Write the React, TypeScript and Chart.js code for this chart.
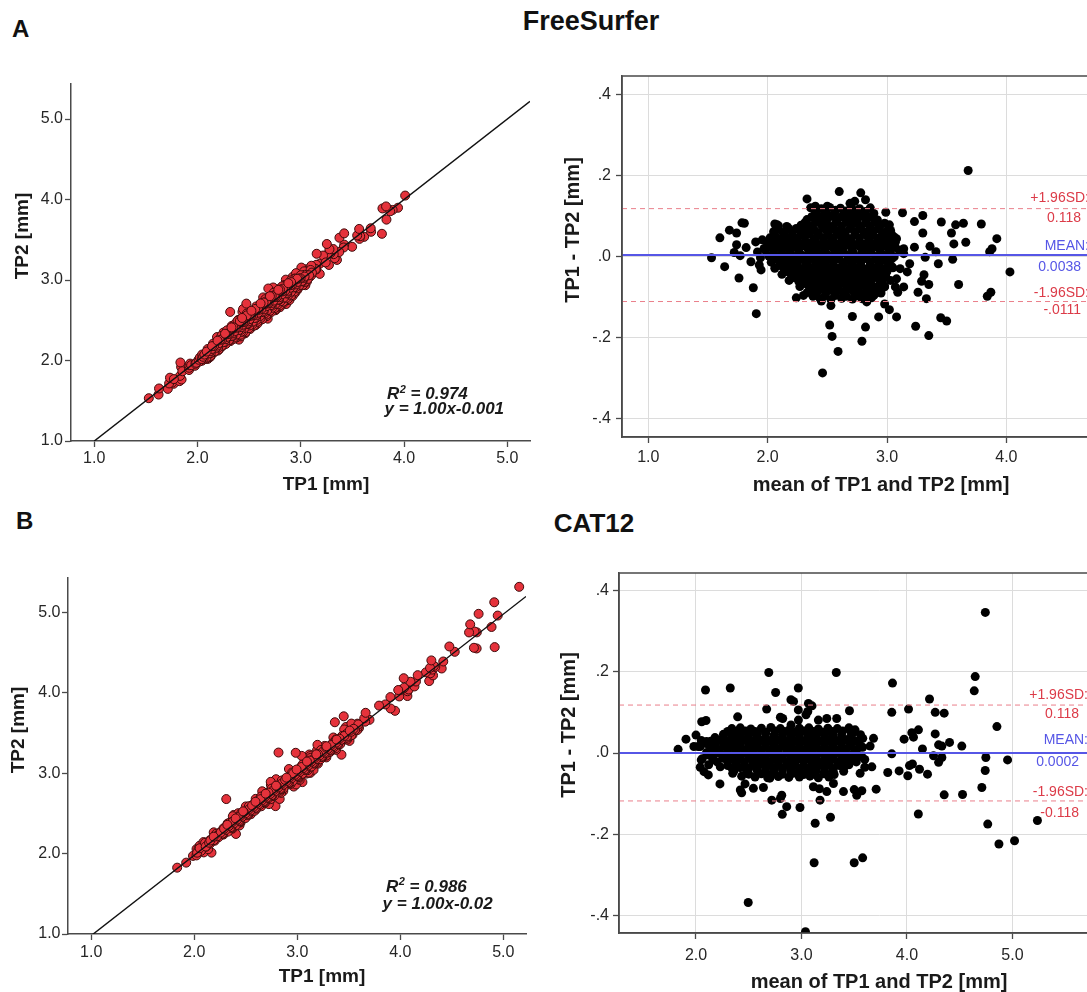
import React, { useEffect, useRef } from "react";
import { Chart, registerables } from "chart.js";

Chart.register(...registerables);

const FONT = "'Liberation Sans', Arial, Helvetica, sans-serif";
Chart.defaults.font.family = FONT;

// ---------------- DATA ----------------
// Bland-Altman points [mean of TP1 and TP2, TP1 - TP2], FreeSurfer
const fsPoints: [number, number][] = [
  [1.53, -0.003], [1.6, 0.046], [1.64, -0.025], [1.68, 0.065], [1.74, 0.058], [1.74, 0.029], [1.72, 0.01],
  [1.76, -0.053], [1.785, 0.083], [1.805, 0.082], [1.82, 0.022], [1.77, 0.002], [1.88, -0.077], [1.905, -0.141],
  [1.86, -0.013], [1.9, 0.036], [1.915, 0.011], [1.93, -0.021], [1.945, -0.033], [1.955, 0.041], [1.94, -0.003],
  [1.97, 0.02], [2.06, 0.08], [2.08, 0.078], [2.175, 0.07], [2.33, 0.142], [2.4, 0.124], [2.5, 0.124], [2.6, 0.16],
  [2.69, 0.131], [2.78, 0.157], [2.82, 0.14], [2.73, 0.136],
  [2.99, 0.109], [3.13, 0.108], [3.23, 0.086], [3.3, 0.101], [3.455, 0.085], [3.575, 0.078], [3.64, 0.082],
  [3.79, 0.08], [3.54, 0.058], [3.3, 0.058], [3.56, 0.031], [3.66, 0.035], [3.92, 0.044], [3.88, 0.019],
  [3.86, 0.012], [4.03, -0.038], [3.55, -0.007], [3.6, -0.069], [3.84, -0.098], [3.87, -0.088], [3.43, -0.018],
  [3.41, 0.012], [3.36, 0.025], [3.32, -0.002], [3.31, -0.045], [3.29, -0.061], [3.35, -0.069], [3.33, -0.104],
  [3.26, -0.088], [3.24, -0.172], [3.45, -0.151], [3.5, -0.159], [3.19, -0.018], [3.17, -0.038], [3.14, 0.019],
  [3.23, 0.023], [3.09, -0.088], [3.08, -0.149], [2.93, -0.149], [2.89, -0.096], [2.83, -0.112], [2.98, -0.117],
  [3.02, -0.131], [2.82, -0.174], [3.07, 0.035], [3.06, 0.048], [3.03, 0.064], [3.14, 0.007], [3.04, -0.025],
  [3.08, -0.055], [3.14, -0.075], [3.07, -0.075], [2.97, -0.055], [2.98, -0.075], [3.025, 0.031], [3.11, -0.03],
  [3.68, 0.212], [3.35, -0.195], [2.79, -0.209],
  [2.24, -0.102], [2.3, -0.096], [2.38, -0.098], [2.45, -0.11], [2.53, -0.121], [2.52, -0.169], [2.54, -0.197],
  [2.59, -0.234], [2.46, -0.287], [2.71, -0.148],
  // dense core
  [2.36, 0.12], [2.45, 0.118], [2.52, 0.121], [2.61, 0.119], [2.7, 0.122], [2.77, 0.118], [2.86, 0.12],
  [2.4, 0.106], [2.48, 0.104], [2.56, 0.107], [2.64, 0.105], [2.72, 0.106], [2.81, 0.103], [2.89, 0.106],
  [2.33, 0.091], [2.42, 0.089], [2.5, 0.092], [2.58, 0.09], [2.66, 0.093], [2.75, 0.089], [2.83, 0.091], [2.92, 0.09],
  [2.09, 0.076], [2.16, 0.074], [2.28, 0.077], [2.36, 0.075], [2.45, 0.078], [2.53, 0.074], [2.62, 0.076],
  [2.7, 0.077], [2.78, 0.074], [2.86, 0.076], [2.94, 0.075], [3.02, 0.078],
  [2.05, 0.061], [2.13, 0.059], [2.21, 0.062], [2.28, 0.06], [2.35, 0.063], [2.42, 0.059], [2.5, 0.061],
  [2.58, 0.062], [2.65, 0.058], [2.73, 0.061], [2.81, 0.06], [2.89, 0.063], [2.97, 0.059],
  [2.02, 0.046], [2.1, 0.044], [2.17, 0.047], [2.24, 0.045], [2.31, 0.048], [2.39, 0.044], [2.47, 0.046],
  [2.54, 0.045], [2.62, 0.047], [2.69, 0.044], [2.77, 0.046], [2.84, 0.048], [2.92, 0.045], [3.0, 0.046], [3.08, 0.044],
  [2.0, 0.031], [2.07, 0.029], [2.14, 0.032], [2.21, 0.03], [2.29, 0.031], [2.36, 0.033], [2.43, 0.029],
  [2.51, 0.031], [2.58, 0.03], [2.66, 0.032], [2.74, 0.029], [2.81, 0.031], [2.89, 0.03], [2.96, 0.032], [3.04, 0.029],
  [1.98, 0.016], [2.05, 0.014], [2.12, 0.017], [2.19, 0.015], [2.26, 0.016], [2.34, 0.018], [2.41, 0.014],
  [2.48, 0.016], [2.56, 0.015], [2.63, 0.017], [2.71, 0.014], [2.79, 0.016], [2.86, 0.015], [2.94, 0.017],
  [3.02, 0.014], [3.1, 0.016],
  [2.01, 0.001], [2.09, -0.001], [2.16, 0.002], [2.23, 0.0], [2.3, 0.001], [2.38, 0.003], [2.45, -0.001],
  [2.53, 0.001], [2.6, 0.0], [2.68, 0.002], [2.76, -0.001], [2.83, 0.001], [2.91, 0.0], [2.99, 0.002], [3.06, -0.001],
  [2.03, -0.014], [2.11, -0.016], [2.18, -0.013], [2.25, -0.015], [2.33, -0.014], [2.4, -0.012], [2.48, -0.016],
  [2.55, -0.014], [2.63, -0.015], [2.71, -0.013], [2.78, -0.016], [2.86, -0.014], [2.94, -0.015], [3.01, -0.013],
  [2.06, -0.029], [2.14, -0.031], [2.21, -0.028], [2.29, -0.03], [2.36, -0.029], [2.44, -0.027], [2.51, -0.031],
  [2.59, -0.029], [2.67, -0.03], [2.74, -0.028], [2.82, -0.031], [2.9, -0.029], [2.97, -0.03], [3.05, -0.028],
  [2.12, -0.044], [2.2, -0.046], [2.27, -0.043], [2.35, -0.045], [2.42, -0.044], [2.5, -0.042], [2.57, -0.046],
  [2.65, -0.044], [2.73, -0.045], [2.8, -0.043], [2.88, -0.046], [2.96, -0.044],
  [2.18, -0.059], [2.26, -0.061], [2.33, -0.058], [2.41, -0.06], [2.49, -0.059], [2.56, -0.057], [2.64, -0.061],
  [2.72, -0.059], [2.79, -0.06], [2.87, -0.058], [2.95, -0.061], [3.03, -0.059],
  [2.27, -0.074], [2.35, -0.076], [2.43, -0.073], [2.51, -0.075], [2.58, -0.074], [2.66, -0.072], [2.74, -0.076],
  [2.82, -0.074], [2.9, -0.075], [2.98, -0.073],
  [2.33, -0.089], [2.41, -0.091], [2.49, -0.088], [2.56, -0.09], [2.64, -0.089], [2.72, -0.087], [2.8, -0.091],
  [2.88, -0.089], [2.95, -0.09],
  [2.44, -0.104], [2.53, -0.106], [2.62, -0.103], [2.71, -0.105], [2.79, -0.104], [2.87, -0.102],
];

// more of the dense FreeSurfer core (between the rows above)
const fsCoreFill: [number, number][] = [
  [2.41, 0.113], [2.49, 0.112], [2.57, 0.114], [2.66, 0.112], [2.74, 0.113], [2.82, 0.111],
  [2.37, 0.098], [2.45, 0.097], [2.53, 0.099], [2.62, 0.098], [2.7, 0.096], [2.78, 0.099], [2.86, 0.098],
  [2.31, 0.083], [2.4, 0.084], [2.49, 0.082], [2.57, 0.083], [2.66, 0.085], [2.74, 0.082], [2.82, 0.083],
  [2.9, 0.084], [2.98, 0.082],
  [2.09, 0.068], [2.17, 0.067], [2.24, 0.069], [2.32, 0.068], [2.39, 0.066], [2.47, 0.069], [2.54, 0.068],
  [2.62, 0.067], [2.69, 0.069], [2.77, 0.068], [2.85, 0.066], [2.93, 0.068], [3.01, 0.067],
  [2.06, 0.053], [2.14, 0.054], [2.21, 0.052], [2.28, 0.053], [2.35, 0.055], [2.43, 0.052], [2.51, 0.053],
  [2.58, 0.054], [2.65, 0.052], [2.73, 0.053], [2.81, 0.055], [2.88, 0.052], [2.96, 0.053], [3.04, 0.054],
  [2.04, 0.038], [2.11, 0.037], [2.18, 0.039], [2.25, 0.038], [2.32, 0.036], [2.4, 0.039], [2.47, 0.038],
  [2.55, 0.037], [2.62, 0.039], [2.7, 0.038], [2.77, 0.036], [2.85, 0.038], [2.93, 0.039], [3.0, 0.037],
  [2.03, 0.023], [2.1, 0.024], [2.17, 0.022], [2.24, 0.023], [2.32, 0.025], [2.39, 0.022], [2.47, 0.023],
  [2.54, 0.024], [2.62, 0.022], [2.7, 0.023], [2.77, 0.025], [2.85, 0.022], [2.92, 0.023], [3.0, 0.024], [3.07, 0.022],
  [2.05, 0.008], [2.12, 0.007], [2.19, 0.009], [2.27, 0.008], [2.34, 0.006], [2.42, 0.009], [2.49, 0.008],
  [2.57, 0.007], [2.64, 0.009], [2.72, 0.008], [2.79, 0.006], [2.87, 0.008], [2.95, 0.009], [3.03, 0.007],
  [2.07, -0.007], [2.14, -0.006], [2.21, -0.008], [2.29, -0.007], [2.36, -0.005], [2.44, -0.008], [2.51, -0.007],
  [2.59, -0.006], [2.67, -0.008], [2.74, -0.007], [2.82, -0.005], [2.9, -0.007], [2.97, -0.008], [3.04, -0.006],
  [2.1, -0.022], [2.17, -0.021], [2.25, -0.023], [2.32, -0.022], [2.4, -0.02], [2.47, -0.023], [2.55, -0.022],
  [2.63, -0.021], [2.7, -0.023], [2.78, -0.022], [2.86, -0.02], [2.93, -0.022], [3.01, -0.023],
  [2.16, -0.037], [2.24, -0.036], [2.31, -0.038], [2.39, -0.037], [2.46, -0.035], [2.54, -0.038], [2.61, -0.037],
  [2.69, -0.036], [2.77, -0.038], [2.84, -0.037], [2.92, -0.035], [3.0, -0.037],
  [2.22, -0.052], [2.3, -0.051], [2.37, -0.053], [2.45, -0.052], [2.53, -0.05], [2.6, -0.053], [2.68, -0.052],
  [2.76, -0.051], [2.83, -0.053], [2.91, -0.052], [2.99, -0.05],
  [2.3, -0.067], [2.38, -0.066], [2.46, -0.068], [2.54, -0.067], [2.62, -0.065], [2.7, -0.068], [2.78, -0.067],
  [2.86, -0.066], [2.94, -0.068],
  [2.37, -0.082], [2.45, -0.081], [2.52, -0.083], [2.6, -0.082], [2.68, -0.08], [2.76, -0.083], [2.84, -0.082],
  [2.92, -0.081],
  [2.48, -0.097], [2.57, -0.096], [2.66, -0.098], [2.75, -0.097], [2.83, -0.095],
];

// Bland-Altman points [mean of TP1 and TP2, TP1 - TP2], CAT12
const c12Points: [number, number][] = [
  [1.83, 0.009], [1.905, 0.034], [2.09, 0.155], [2.325, 0.16], [2.69, 0.198], [3.33, 0.198], [2.97, 0.16],
  [2.755, 0.149], [2.9, 0.131], [2.925, 0.127], [3.066, 0.122], [3.1, 0.116], [2.97, 0.106], [2.67, 0.108],
  [3.455, 0.104], [2.395, 0.089], [2.054, 0.077], [2.095, 0.08], [1.98, 0.016], [2.0, 0.044], [2.176, 0.006],
  [2.04, -0.035], [2.076, -0.046], [2.117, -0.054], [2.227, -0.076], [2.348, -0.05], [2.433, -0.057],
  [2.433, -0.098], [2.544, -0.087], [2.465, -0.076], [2.639, -0.085], [2.7, -0.062], [2.813, -0.104],
  [2.8, -0.112], [2.86, -0.132], [2.986, -0.134], [2.718, -0.116], [3.176, -0.116], [3.113, -0.083],
  [3.17, -0.088], [3.24, -0.095], [3.303, -0.075], [3.398, -0.095], [3.524, -0.104], [3.5, -0.09],
  [3.556, -0.05], [3.6, -0.035], [3.572, -0.009], [3.581, 0.036], [3.508, 0.057], [3.46, 0.056], [3.334, 0.085],
  [3.24, 0.085], [3.16, 0.081], [2.822, 0.085], [2.8, 0.088], [2.901, 0.069], [2.971, 0.081], [3.043, 0.094],
  [3.06, 0.102],
  [2.818, -0.151], [3.13, -0.173], [3.275, -0.158], [3.12, -0.27], [3.5, -0.27], [3.58, -0.258], [2.495, -0.368],
  [3.038, -0.44], [2.42, -0.091],
  [3.863, 0.172], [4.647, 0.188], [4.638, 0.153], [3.856, 0.1], [4.015, 0.108], [4.214, 0.133], [4.268, 0.1],
  [4.353, 0.098], [4.853, 0.065], [3.683, 0.036], [3.651, 0.017], [3.973, 0.034], [4.046, 0.05], [4.062, 0.039],
  [4.109, 0.057], [4.147, 0.01], [4.268, 0.047], [4.3, 0.02], [4.331, 0.017], [4.404, 0.026], [4.52, 0.017],
  [3.856, -0.002], [4.252, -0.007], [4.331, -0.011], [4.748, -0.011], [4.954, -0.017], [4.742, -0.043],
  [4.3, -0.023], [4.024, -0.031], [4.052, -0.027], [4.119, -0.04], [4.195, -0.052], [4.008, -0.056],
  [3.926, -0.044], [3.818, -0.048], [3.667, -0.034], [3.708, -0.089], [3.572, -0.093], [4.353, -0.103],
  [4.527, -0.102], [4.71, -0.085],
  [4.743, 0.346], [4.108, -0.15], [4.766, -0.175], [4.872, -0.224], [5.02, -0.216], [5.237, -0.166],
  [2.1, 0.028], [2.15, 0.016], [2.04, 0.016], [2.26, -0.009], [2.12, -0.005], [2.05, -0.017], [2.23, -0.034],
  // dense core
  [2.34, 0.06], [2.42, 0.062], [2.52, 0.059], [2.62, 0.061], [2.71, 0.063], [2.8, 0.06], [2.89, 0.058],
  [2.98, 0.061], [3.07, 0.062], [3.16, 0.059], [3.25, 0.061], [3.34, 0.06], [3.45, 0.062],
  [2.26, 0.046], [2.34, 0.044], [2.42, 0.047], [2.5, 0.045], [2.58, 0.046], [2.66, 0.048], [2.74, 0.044],
  [2.82, 0.046], [2.9, 0.045], [2.98, 0.047], [3.06, 0.044], [3.14, 0.046], [3.22, 0.045], [3.3, 0.047],
  [3.38, 0.044], [3.48, 0.046], [3.56, 0.045],
  [2.05, 0.031], [2.14, 0.029], [2.22, 0.032], [2.3, 0.03], [2.38, 0.031], [2.46, 0.033], [2.54, 0.029],
  [2.62, 0.031], [2.7, 0.03], [2.78, 0.032], [2.86, 0.029], [2.94, 0.031], [3.02, 0.03], [3.1, 0.032],
  [3.18, 0.029], [3.26, 0.031], [3.34, 0.03], [3.42, 0.032], [3.52, 0.029],
  [2.02, 0.016], [2.18, 0.014], [2.26, 0.017], [2.34, 0.015], [2.42, 0.016], [2.5, 0.018], [2.58, 0.014],
  [2.66, 0.016], [2.74, 0.015], [2.82, 0.017], [2.9, 0.014], [2.98, 0.016], [3.06, 0.015], [3.14, 0.017],
  [3.22, 0.014], [3.3, 0.016], [3.38, 0.015], [3.46, 0.017], [3.58, 0.014],
  [2.1, 0.001], [2.22, -0.001], [2.3, 0.002], [2.38, 0.0], [2.46, 0.001], [2.54, 0.003], [2.62, -0.001],
  [2.7, 0.001], [2.78, 0.0], [2.86, 0.002], [2.94, -0.001], [3.02, 0.001], [3.1, 0.0], [3.18, 0.002],
  [3.26, -0.001], [3.34, 0.001], [3.42, 0.0], [3.5, 0.002],
  [2.06, -0.014], [2.16, -0.016], [2.26, -0.013], [2.34, -0.015], [2.42, -0.014], [2.5, -0.012], [2.58, -0.016],
  [2.66, -0.014], [2.74, -0.015], [2.82, -0.013], [2.9, -0.016], [2.98, -0.014], [3.06, -0.015], [3.14, -0.013],
  [3.22, -0.016], [3.3, -0.014], [3.38, -0.015], [3.48, -0.013], [3.6, -0.016],
  [2.12, -0.029], [2.3, -0.031], [2.38, -0.028], [2.46, -0.03], [2.54, -0.029], [2.62, -0.027], [2.7, -0.031],
  [2.78, -0.029], [2.86, -0.03], [2.94, -0.028], [3.02, -0.031], [3.1, -0.029], [3.18, -0.03], [3.26, -0.028],
  [3.36, -0.031], [3.45, -0.029],
  [2.36, -0.044], [2.48, -0.046], [2.58, -0.043], [2.66, -0.045], [2.74, -0.044], [2.82, -0.042], [2.9, -0.046],
  [2.98, -0.044], [3.06, -0.045], [3.14, -0.043], [3.22, -0.046], [3.3, -0.044], [3.4, -0.045],
  [2.56, -0.059], [2.68, -0.061], [2.78, -0.058], [2.88, -0.06], [2.98, -0.059], [3.08, -0.057], [3.16, -0.061],
  [3.26, -0.059],
];

// more of the dense CAT12 core (between the rows above)
const c12CoreFill: [number, number][] = [
  [2.3, 0.053], [2.38, 0.052], [2.47, 0.054], [2.56, 0.053], [2.66, 0.051], [2.75, 0.054], [2.84, 0.053],
  [2.93, 0.052], [3.02, 0.054], [3.11, 0.053], [3.2, 0.051], [3.29, 0.053], [3.39, 0.054], [3.5, 0.052],
  [2.18, 0.038], [2.26, 0.037], [2.34, 0.039], [2.42, 0.038], [2.5, 0.036], [2.58, 0.039], [2.66, 0.038],
  [2.74, 0.037], [2.82, 0.039], [2.9, 0.038], [2.98, 0.036], [3.06, 0.038], [3.14, 0.039], [3.22, 0.037],
  [3.3, 0.038], [3.38, 0.036], [3.46, 0.038],
  [2.1, 0.023], [2.18, 0.022], [2.26, 0.024], [2.34, 0.023], [2.42, 0.021], [2.5, 0.024], [2.58, 0.023],
  [2.66, 0.022], [2.74, 0.024], [2.82, 0.023], [2.9, 0.021], [2.98, 0.023], [3.06, 0.024], [3.14, 0.022],
  [3.22, 0.023], [3.3, 0.021], [3.38, 0.024], [3.47, 0.023], [3.55, 0.022],
  [2.14, 0.008], [2.22, 0.007], [2.3, 0.009], [2.38, 0.008], [2.46, 0.006], [2.54, 0.009], [2.62, 0.008],
  [2.7, 0.007], [2.78, 0.009], [2.86, 0.008], [2.94, 0.006], [3.02, 0.008], [3.1, 0.009], [3.18, 0.007],
  [3.26, 0.008], [3.34, 0.006], [3.42, 0.009], [3.52, 0.008],
  [2.16, -0.007], [2.26, -0.006], [2.34, -0.008], [2.42, -0.007], [2.5, -0.005], [2.58, -0.008], [2.66, -0.007],
  [2.74, -0.006], [2.82, -0.008], [2.9, -0.007], [2.98, -0.005], [3.06, -0.007], [3.14, -0.008], [3.22, -0.006],
  [3.3, -0.007], [3.38, -0.005], [3.46, -0.008], [3.55, -0.007],
  [2.2, -0.022], [2.3, -0.021], [2.38, -0.023], [2.46, -0.022], [2.54, -0.02], [2.62, -0.023], [2.7, -0.022],
  [2.78, -0.021], [2.86, -0.023], [2.94, -0.022], [3.02, -0.02], [3.1, -0.022], [3.18, -0.023], [3.26, -0.021],
  [3.34, -0.022], [3.42, -0.02], [3.52, -0.022],
  [2.34, -0.037], [2.42, -0.036], [2.5, -0.038], [2.58, -0.037], [2.66, -0.035], [2.74, -0.038], [2.82, -0.037],
  [2.9, -0.036], [2.98, -0.038], [3.06, -0.037], [3.14, -0.035], [3.22, -0.037], [3.3, -0.038], [3.4, -0.036],
  [2.5, -0.052], [2.62, -0.051], [2.72, -0.053], [2.82, -0.052], [2.92, -0.05], [3.02, -0.053], [3.12, -0.052],
  [3.21, -0.051], [3.31, -0.053],
];

// Bland-Altman summary lines
const fsLimits = [0.118, 0.0038, -0.111]; // +1.96SD, mean, -1.96SD
const c12Limits = [0.118, 0.0002, -0.118];
const fsLimitLabels = ["+1.96SD:", "0.118", "MEAN:", "0.0038", "-1.96SD:", "-.0111"];
const c12LimitLabels = ["+1.96SD:", "0.118", "MEAN:", "0.0002", "-1.96SD:", "-0.118"];

// regression fits [slope, intercept]
const fsFit = [1.0, -0.001];
const c12Fit = [1.0, -0.02];
const fitLineX = [1.0, 5.22];

// ticks
const scatterTicks = [1, 2, 3, 4, 5];
const fsBaXTicks = [1, 2, 3, 4, 5];
const c12BaXTicks = [2, 3, 4, 5, 6];
const baYTicks = [-0.4, -0.2, 0, 0.2, 0.4];
const baYTickLabels = ["-.4", "-.2", ".0", ".2", ".4"];

// ---------------- STYLE ----------------
const AXIS = "#4a4a4a";
const TICK_TXT = "#262626";
const RED = "#dc3b48";
const BLUE = "#5656e6";

type Geom = {
  left: number; top: number; w: number; h: number;
  padTop: number; padRight: number; yW: number; xH: number;
};

type TextItem = {
  text: string; x: number; y: number; font: string; color: string;
  align?: CanvasTextAlign; rotate?: boolean; sup?: string; rest?: string;
};

function forceTicks(values: number[]) {
  return (scale: any) => {
    scale.ticks = values.map((v) => ({ value: v }));
  };
}

function textPlugin(items: TextItem[], frame: boolean) {
  return {
    id: "panelText",
    afterDraw(chart: any) {
      const ctx: CanvasRenderingContext2D = chart.ctx;
      if (frame) {
        const a = chart.chartArea;
        ctx.save();
        ctx.strokeStyle = AXIS;
        ctx.lineWidth = 1.5;
        ctx.strokeRect(a.left, a.top, a.right - a.left, a.bottom - a.top);
        ctx.restore();
      }
      for (const it of items) {
        ctx.save();
        ctx.fillStyle = it.color;
        ctx.font = it.font;
        ctx.textBaseline = "middle";
        ctx.textAlign = it.align || "center";
        if (it.rotate) {
          ctx.translate(it.x, it.y);
          ctx.rotate(-Math.PI / 2);
          ctx.fillText(it.text, 0, 0);
        } else if (it.sup) {
          ctx.textAlign = "left";
          let x = it.x;
          ctx.fillText(it.text, x, it.y);
          x += ctx.measureText(it.text).width + 0.5;
          ctx.font = it.font.replace(/\d+(\.\d+)?px/, "11px");
          ctx.fillText(it.sup, x, it.y - 5);
          x += ctx.measureText(it.sup).width;
          ctx.font = it.font;
          ctx.fillText(it.rest || "", x, it.y);
        } else {
          ctx.fillText(it.text, it.x, it.y);
        }
        ctx.restore();
      }
    },
  };
}

function axisCommon(g: Geom, horizontal: boolean) {
  return horizontal
    ? { afterFit: (s: any) => { s.height = g.xH; } }
    : { afterFit: (s: any) => { s.width = g.yW; } };
}

const TICK_FONT = { size: 16, family: FONT };

function scatterConfig(points: [number, number][], fit: number[], g: Geom, yMax: number,
  tickPadX: number, tickPadY: number, texts: TextItem[]): any {
  const pts = points.map(([m, d]) => ({ x: m + d / 2, y: m - d / 2 }));
  const line = fitLineX.map((x) => ({ x, y: fit[0] * x + fit[1] }));
  const grid = { display: true, drawOnChartArea: false, drawTicks: true, tickLength: 6, tickColor: AXIS, tickWidth: 1.3 };
  return {
    type: "scatter",
    data: {
      datasets: [
        { type: "line", data: line, borderColor: "#111", borderWidth: 1.4, pointRadius: 0, fill: false, tension: 0 },
        { type: "scatter", data: pts, backgroundColor: "#e5323b", borderColor: "#3e0b0b", borderWidth: 1, pointRadius: 4.5 },
      ],
    },
    options: {
      animation: false, responsive: false, events: [],
      layout: { padding: { top: g.padTop, right: g.padRight, left: 0, bottom: 0 } },
      plugins: { legend: { display: false }, tooltip: { enabled: false }, title: { display: false } },
      scales: {
        x: {
          type: "linear", min: 0.775, max: 5.22, ...axisCommon(g, true),
          afterBuildTicks: forceTicks(scatterTicks),
          grid, border: { display: true, color: AXIS, width: 1.5 },
          ticks: { color: TICK_TXT, font: TICK_FONT, padding: tickPadX, maxRotation: 0, autoSkip: false,
            callback: (v: any) => Number(v).toFixed(1) },
        },
        y: {
          type: "linear", min: 1.0, max: yMax, ...axisCommon(g, false),
          afterBuildTicks: forceTicks(scatterTicks),
          grid, border: { display: true, color: AXIS, width: 1.5 },
          ticks: { color: TICK_TXT, font: TICK_FONT, padding: tickPadY, autoSkip: false,
            callback: (v: any) => Number(v).toFixed(1) },
        },
      },
    },
    plugins: [textPlugin(texts, false)],
  };
}

function baConfig(points: [number, number][], limits: number[], g: Geom, xMin: number, xMax: number,
  xTicks: number[], yLim: number, tickPadX: number, tickPadY: number, texts: TextItem[]): any {
  const pts = points.map(([m, d]) => ({ x: m, y: d }));
  const hline = (v: number) => [{ x: xMin, y: v }, { x: xMax, y: v }];
  const grid = { display: true, drawOnChartArea: true, color: "#dcdcdc", lineWidth: 1, drawTicks: true,
    tickLength: 6, tickColor: AXIS, tickWidth: 1.3 };
  return {
    type: "scatter",
    data: {
      datasets: [
        { type: "line", data: hline(limits[1]), borderColor: BLUE, borderWidth: 2, pointRadius: 0, fill: false },
        { type: "line", data: hline(limits[0]), borderColor: "#ea7f8b", borderWidth: 1, borderDash: [5, 4], pointRadius: 0, fill: false },
        { type: "line", data: hline(limits[2]), borderColor: "#ea7f8b", borderWidth: 1, borderDash: [5, 4], pointRadius: 0, fill: false },
        { type: "scatter", data: pts, backgroundColor: "#000", borderWidth: 0, pointRadius: 4.5 },
      ],
    },
    options: {
      animation: false, responsive: false, events: [],
      layout: { padding: { top: g.padTop, right: g.padRight, left: 0, bottom: 0 } },
      plugins: { legend: { display: false }, tooltip: { enabled: false }, title: { display: false } },
      scales: {
        x: {
          type: "linear", min: xMin, max: xMax, ...axisCommon(g, true),
          afterBuildTicks: forceTicks(xTicks),
          grid, border: { display: true, color: AXIS, width: 1.5 },
          ticks: { color: TICK_TXT, font: TICK_FONT, padding: tickPadX, maxRotation: 0, autoSkip: false,
            callback: (v: any) => Number(v).toFixed(1) },
        },
        y: {
          type: "linear", min: -yLim, max: yLim, ...axisCommon(g, false),
          afterBuildTicks: forceTicks(baYTicks),
          grid, border: { display: true, color: AXIS, width: 1.5 },
          ticks: { color: TICK_TXT, font: TICK_FONT, padding: tickPadY, autoSkip: false,
            callback: (v: any) => {
              const i = baYTicks.findIndex((t) => Math.abs(t - Number(v)) < 1e-9);
              return i >= 0 ? baYTickLabels[i] : "";
            } },
        },
      },
    },
    plugins: [textPlugin(texts, true)],
  };
}

const TITLE19 = `bold 19px ${FONT}`;
const TITLE20 = `bold 20px ${FONT}`;
const EQ = `italic bold 17px ${FONT}`;
const LBL = `14px ${FONT}`;

function limitTexts(labels: string[], rightA: number, rightB: number, ys: number[]): TextItem[] {
  const colors = [RED, RED, BLUE, BLUE, RED, RED];
  return labels.map((t, i) => ({
    text: t, x: i % 2 === 0 ? rightA : rightB, y: ys[i], font: LBL, color: colors[i], align: "right" as CanvasTextAlign,
  }));
}

const gTL: Geom = { left: 0, top: 50, w: 545, h: 450, padTop: 34, padRight: 15, yW: 71, xH: 59 };
const gBL: Geom = { left: 0, top: 540, w: 545, h: 452, padTop: 38, padRight: 19, yW: 68, xH: 58 };
const gTR: Geom = { left: 545, top: 50, w: 620, h: 450, padTop: 26, padRight: 13, yW: 77, xH: 63 };
const gBR: Geom = { left: 545, top: 545, w: 610, h: 447, padTop: 28, padRight: 16, yW: 74, xH: 59 };

function Panel({ geom, config }: { geom: Geom; config: () => any }) {
  const ref = useRef<HTMLCanvasElement | null>(null);
  useEffect(() => {
    if (!ref.current) return;
    const chart = new Chart(ref.current, config());
    return () => chart.destroy();
  }, []);
  return (
    <canvas
      ref={ref}
      width={geom.w}
      height={geom.h}
      style={{ position: "absolute", left: geom.left, top: geom.top, width: geom.w, height: geom.h }}
    />
  );
}

const headStyle = (left: number, top: number, size: number, width?: number): React.CSSProperties => ({
  position: "absolute", left, top, width, textAlign: width ? "center" : "left",
  font: `bold ${size}px ${FONT}`, lineHeight: `${size}px`, color: "#111", whiteSpace: "nowrap",
});

export default function App() {
  const fsAll = [...fsPoints, ...fsCoreFill];
  const c12All = [...c12Points, ...c12CoreFill];
  return (
    <div style={{ position: "fixed", left: 0, top: 0, width: 1087, height: 992, overflow: "hidden", background: "#fff" }}>
      <div style={headStyle(12, 17, 24)}>A</div>
      <div style={headStyle(441, 8, 27, 300)}>FreeSurfer</div>
      <div style={headStyle(16, 509, 24)}>B</div>
      <div style={headStyle(444, 510, 26, 300)}>CAT12</div>
      <Panel
        geom={gTL}
        config={() => scatterConfig(fsAll, fsFit, gTL, 5.435, 1.5, 2, [
          { text: "TP2 [mm]", x: 22.5, y: 186, font: TITLE19, color: "#1a1a1a", rotate: true },
          { text: "TP1 [mm]", x: 326, y: 435, font: TITLE19, color: "#1a1a1a" },
          { text: "R", sup: "2", rest: " = 0.974", x: 387, y: 344.5, font: EQ, color: "#1a1a1a" },
          { text: "y = 1.00x-0.001", x: 384.5, y: 359, font: EQ, color: "#1a1a1a", align: "left" },
        ])}
      />
      <Panel
        geom={gBL}
        config={() => scatterConfig(c12All, c12Fit, gBL, 5.43, 2.5, 1.5, [
          { text: "TP2 [mm]", x: 18.5, y: 190, font: TITLE19, color: "#1a1a1a", rotate: true },
          { text: "TP1 [mm]", x: 322, y: 437, font: TITLE19, color: "#1a1a1a" },
          { text: "R", sup: "2", rest: " = 0.986", x: 386, y: 347, font: EQ, color: "#1a1a1a" },
          { text: "y = 1.00x-0.02", x: 382.6, y: 364.5, font: EQ, color: "#1a1a1a", align: "left" },
        ])}
      />
      <Panel
        geom={gTR}
        config={() => baConfig(fsAll, fsLimits, gTR, 0.78, 5.22, fsBaXTicks, 0.445, 4.5, 5, [
          { text: "TP1 - TP2 [mm]", x: 28, y: 180, font: TITLE20, color: "#1a1a1a", rotate: true },
          { text: "mean of TP1 and TP2 [mm]", x: 336, y: 435, font: TITLE20, color: "#1a1a1a" },
          ...limitTexts(fsLimitLabels, 544, 536, [148, 167.7, 196, 216.7, 243, 260]),
        ])}
      />
      <Panel
        geom={gBR}
        config={() => baConfig(c12All, c12Limits, gBR, 1.27, 6.2, c12BaXTicks, 0.443, 6.5, 4, [
          { text: "TP1 - TP2 [mm]", x: 24.5, y: 180, font: TITLE20, color: "#1a1a1a", rotate: true },
          { text: "mean of TP1 and TP2 [mm]", x: 334, y: 437, font: TITLE20, color: "#1a1a1a" },
          ...limitTexts(c12LimitLabels, 543, 534, [150, 169, 195, 217, 247, 268]),
        ])}
      />
    </div>
  );
}
